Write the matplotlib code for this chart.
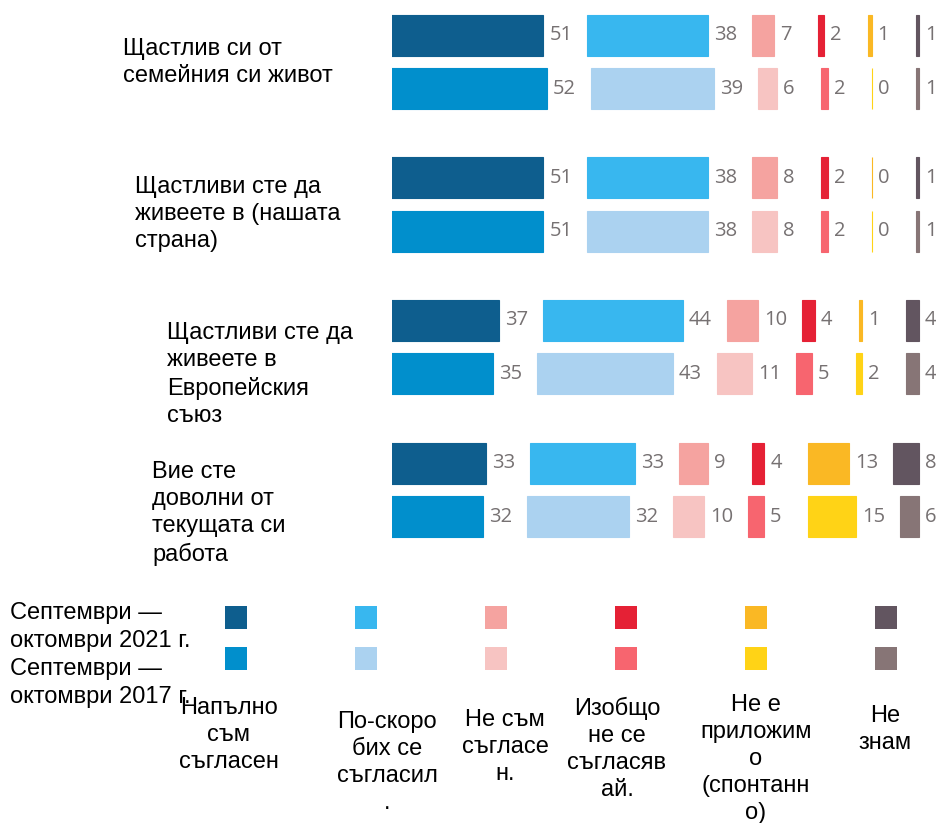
import numpy as np
import matplotlib.pyplot as plt

# survey items, answer options and the two waves
questions = ["Щастлив си от\nсемейния си живот",
             "Щастливи сте да\nживеете в (нашата\nстрана)",
             "Щастливи сте да\nживеете в\nЕвропейския\nсъюз",
             "Вие сте\nдоволни от\nтекущата си\nработа"]
answers = ["Напълно\nсъм\nсъгласен",
           "По-скоро\nбих се\nсъгласил\n.",
           "Не съм\nсъгласе\nн.",
           "Изобщо\nне се\nсъгласяв\nай.",
           "Не е\nприложим\nо\n(спонтанн\nо)",
           "Не\nзнам"]
waves = ["Септември —\nоктомври 2021 г.", "Септември —\nоктомври 2017 г."]

vals_2021 = [[51, 38, 7, 2, 1, 1],
             [51, 38, 8, 2, 0, 1],
             [37, 44, 10, 4, 1, 4],
             [33, 33, 9, 4, 13, 8]]
vals_2017 = [[52, 39, 6, 2, 0, 1],
             [51, 38, 8, 2, 0, 1],
             [35, 43, 11, 5, 2, 4],
             [32, 32, 10, 5, 15, 6]]

col_2021 = ['#0e5e8e', '#38b7ef', '#f5a3a0', '#e52135', '#fab824', '#625560']
col_2017 = ['#018fcc', '#abd2f0', '#f7c4c2', '#f7656f', '#ffd316', '#877576']

W, H = 936, 823
fig = plt.figure(figsize=(W/100, H/100), dpi=100)

# layout (pixels)
px = 3.17          # pixels per percentage point
gap = 44 / px      # space between segments, in points
x_left = 391.8
y0, g_step, r_step, bar_h = 35, 142.7, 53.5, 41

ax = fig.add_axes([x_left/W, 1 - 560/H, 1 - x_left/W, 560/H])
xmin = 10 / px
ax.set_xlim(xmin, xmin + (W - x_left)/px)
ax.set_ylim(560, 0)
ax.axis('off')

for k in range(len(questions)):
    for r, (vals, cols) in enumerate([(vals_2021[k], col_2021), (vals_2017[k], col_2017)]):
        yc = y0 + g_step*k + r_step*r
        left = 0
        for v, c in zip(vals, cols):
            ax.barh(yc, v, left=left, height=bar_h, color=c, edgecolor=c, linewidth=0.8)
            ax.text(left + v + 6/px, yc, str(v), va='center', ha='left',
                    fontsize=14.5, family='Open Sans', color='#767172')
            left += v + gap

# overlay in pixel coordinates for labels and legend
lay = fig.add_axes([0, 0, 1, 1], zorder=-1)
lay.set_xlim(0, W)
lay.set_ylim(H, 0)
lay.axis('off')

tf = dict(fontsize=17, family='Liberation Sans', color='black')

q_pos = [(123, 38), (135, 176), (167, 322), (152, 461)]
for q, (x, y) in zip(questions, q_pos):
    lay.text(x, y, q, ha='left', va='top', linespacing=1.3, **tf)

# legend squares
sq_x = 235.5 + 130*np.arange(len(answers))
for row, cols in enumerate([col_2021, col_2017]):
    lay.bar(sq_x, 23, width=22, bottom=606 + 41*row, color=cols)

for w, y in zip(waves, [602, 658]):
    lay.text(10, y, w, ha='left', va='top', linespacing=1.38, **tf)

a_x = [229, 387, 505, 617, 756, 885]
a_y = [697, 711, 709, 697, 694, 705]
for a, x, y in zip(answers, a_x, a_y):
    lay.text(x, y, a, ha='center', va='top', multialignment='center',
             linespacing=1.3, **tf)

fig.savefig('out.png', dpi=100)
